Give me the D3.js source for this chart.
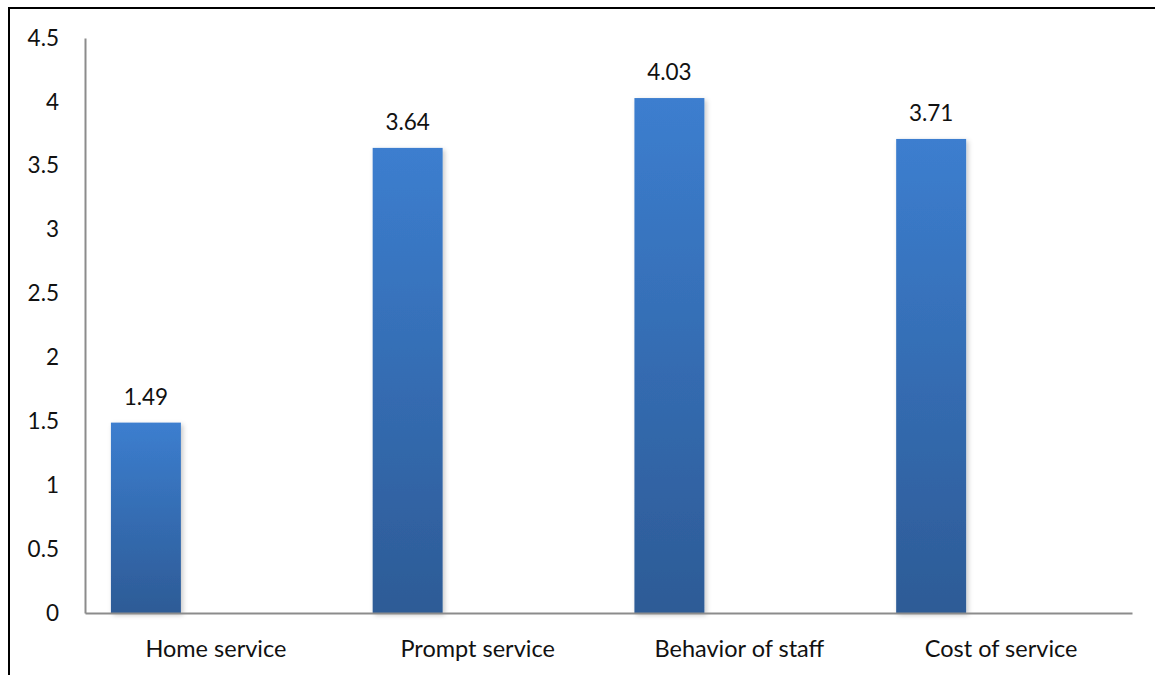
<!DOCTYPE html>
<html>
<head>
<meta charset="utf-8">
<script src="https://cdn.jsdelivr.net/npm/d3@7"></script>
<style>
  html, body { margin: 0; padding: 0; background: #fff; }
  svg { display: block; }
  text { font-family: Lato, "Open Sans", sans-serif; fill: #111; }
</style>
</head>
<body>
<script>
// Mean satisfaction score per service aspect
const categories = ["Home service", "Prompt service", "Behavior of staff", "Cost of service"];
const scores = [1.49, 3.64, 4.03, 3.71];
const yTicks = [0, 0.5, 1, 1.5, 2, 2.5, 3, 3.5, 4, 4.5];
// Clustered layout slots; only the first slot carries a series
const slots = ["score", "slot2", "slot3"];

const W = 1155, H = 675;
const plot = { left: 85, right: 1132, top: 38, bottom: 613 };
const FONT = "Lato, 'Open Sans', sans-serif";

const svg = d3.select("body").append("svg")
  .attr("width", W).attr("height", H);

// Outer frame (top and left edges visible)
svg.append("path")
  .attr("d", `M9,${H + 5} L9,8 L${W + 5},8`)
  .attr("fill", "none")
  .attr("stroke", "#000")
  .attr("stroke-width", 2);

const defs = svg.append("defs");
const grad = defs.append("linearGradient")
  .attr("id", "barFill").attr("x1", 0).attr("y1", 0).attr("x2", 0).attr("y2", 1);
grad.append("stop").attr("offset", "0%").attr("stop-color", "#3c7ecf");
grad.append("stop").attr("offset", "100%").attr("stop-color", "#2d5b96");

const shadow = defs.append("filter").attr("id", "barShadow")
  .attr("x", "-20%").attr("y", "-5%").attr("width", "150%").attr("height", "115%");
shadow.append("feDropShadow")
  .attr("dx", 2).attr("dy", 2).attr("stdDeviation", 2.5)
  .attr("flood-color", "#000").attr("flood-opacity", 0.22);

const x = d3.scaleBand()
  .domain(categories)
  .range([plot.left, plot.right])
  .paddingInner(0.198).paddingOuter(0.099);

const xSlot = d3.scaleBand()
  .domain(slots)
  .range([0, x.bandwidth()]);

const y = d3.scaleLinear()
  .domain([0, 4.5])
  .range([plot.bottom, plot.top]);

// Bars
svg.append("g").selectAll("rect")
  .data(categories.map((c, i) => ({ c, v: scores[i] })))
  .join("rect")
  .attr("x", d => x(d.c) + xSlot("score"))
  .attr("y", d => y(d.v))
  .attr("width", xSlot.bandwidth())
  .attr("height", d => y(0) - y(d.v))
  .attr("fill", "url(#barFill)")
  .attr("filter", "url(#barShadow)");

// Value labels
svg.append("g").selectAll("text")
  .data(categories.map((c, i) => ({ c, v: scores[i] })))
  .join("text")
  .attr("x", d => x(d.c) + xSlot("score") + xSlot.bandwidth() / 2)
  .attr("y", d => y(d.v) - 18)
  .attr("text-anchor", "middle")
  .attr("font-size", 22.5)
  .text(d => d3.format(".2f")(d.v));

// Y axis
const yAxis = svg.append("g")
  .attr("transform", `translate(${plot.left},0)`)
  .call(d3.axisLeft(y).tickValues(yTicks).tickSize(0).tickPadding(26)
    .tickFormat(d => String(d)));
yAxis.select(".domain").attr("stroke", "#8c8c8c").attr("stroke-width", 2);
yAxis.selectAll("text").attr("font-size", 22.5).attr("fill", "#111")
  .attr("font-family", FONT);

// X axis
const xAxis = svg.append("g")
  .attr("transform", `translate(0,${plot.bottom})`)
  .call(d3.axisBottom(x).tickSize(0).tickPadding(27));
xAxis.select(".domain").attr("stroke", "#8c8c8c").attr("stroke-width", 2);
xAxis.selectAll("text").attr("font-size", 23.5).attr("fill", "#111")
  .attr("font-family", FONT);
</script>
</body>
</html>
